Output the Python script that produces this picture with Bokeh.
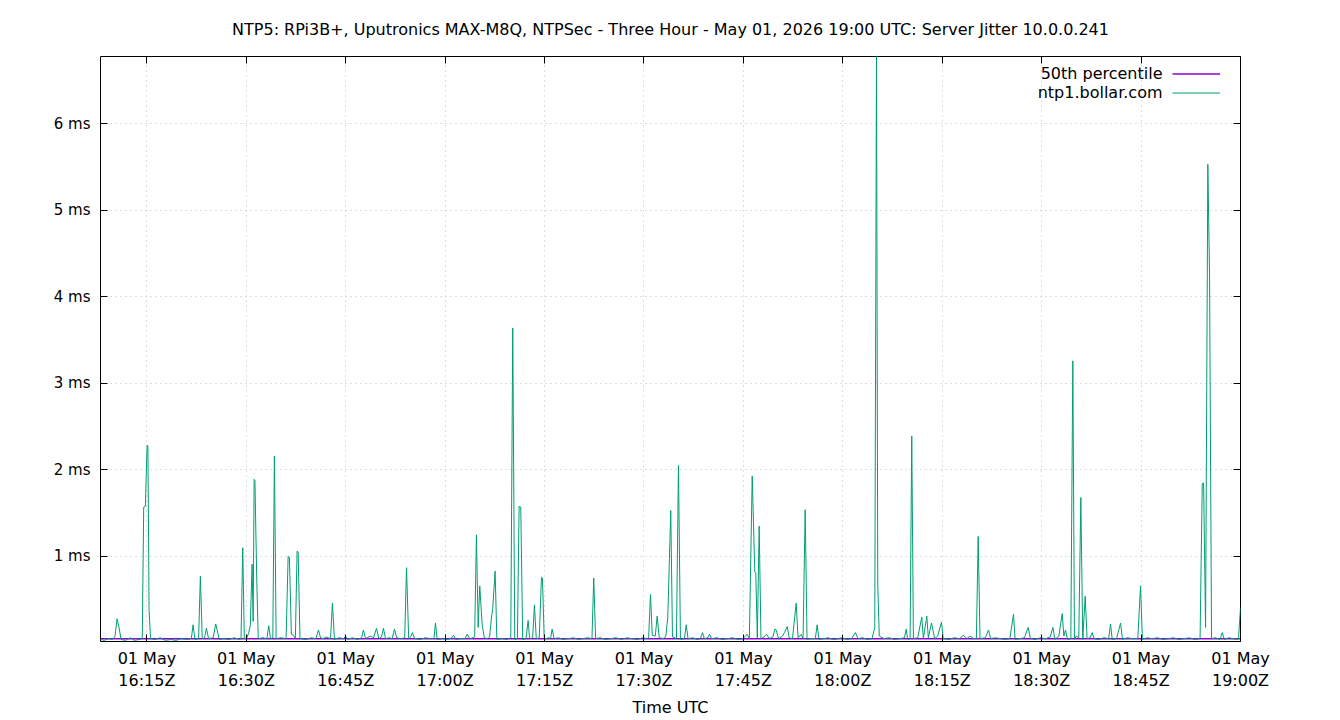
from bokeh.plotting import figure
from bokeh.models import Range1d, FixedTicker, LinearAxis, Legend, LegendItem, Label
from bokeh.embed import file_html
from bokeh.resources import INLINE

FONT = "DejaVu Sans"

title_text = ("NTP5: RPi3B+, Uputronics MAX-M8Q, NTPSec - Three Hour - "
              "May 01, 2026 19:00 UTC: Server Jitter 10.0.0.241")

# minutes after 16:00 UTC, May 01 2026
t_min = [
    8.0, 8.6, 9.2, 9.8, 10.2, 10.5, 10.8, 11.1, 11.8, 12.5,
    13.1, 13.8, 14.3, 14.52, 14.77, 15.03, 15.15, 15.33, 15.55, 16.2,
    17.0, 17.8, 18.6, 19.4, 20.2, 21.0, 21.7, 21.97, 22.25, 22.8,
    23.07, 23.35, 23.7, 23.98, 24.3, 25.0, 25.38, 25.6, 25.9, 26.6,
    27.4, 28.2, 29.0, 29.2, 29.46, 29.7, 30.1, 30.36, 30.6, 30.87,
    31.03, 31.18, 31.3, 31.57, 31.8, 32.5, 33.1, 33.38, 33.65, 34.0,
    34.24, 34.5, 35.2, 36.0, 36.31, 36.5, 36.8, 37.1, 37.4, 37.66,
    37.82, 38.1, 39.0, 39.8, 40.5, 40.88, 41.2, 41.6, 42.0, 42.7,
    42.99, 43.3, 44.0, 44.7, 44.96, 45.3, 46.0, 46.8, 47.4, 47.67,
    48.0, 48.7, 49.2, 49.64, 50.0, 50.4, 50.69, 51.0, 51.6, 52.0,
    52.36, 52.7, 53.3, 53.9, 54.17, 54.5, 54.8, 55.07, 55.4, 56.2,
    57.0, 57.8, 58.3, 58.54, 58.8, 59.6, 60.4, 61.0, 61.26, 61.6,
    62.3, 63.0, 63.32, 63.7, 64.2, 64.45, 64.72, 64.98, 65.22, 65.58,
    65.9, 66.4, 66.7, 67.0, 67.18, 67.54, 67.8, 68.5, 69.3, 69.9,
    70.2, 70.5, 70.9, 71.16, 71.41, 71.7, 72.2, 72.52, 72.75, 73.2,
    73.47, 73.75, 74.2, 74.53, 74.68, 74.95, 75.6, 75.9, 76.14, 76.45,
    77.1, 77.8, 78.6, 79.4, 80.1, 80.8, 81.5, 82.15, 82.42, 82.7,
    83.4, 84.2, 85.0, 85.8, 86.6, 87.4, 88.2, 89.0, 89.8, 90.4,
    90.7, 90.98, 91.25, 91.7, 91.99, 92.3, 93.0, 93.3, 93.59, 94.04,
    94.3, 94.9, 95.2, 95.5, 96.1, 96.37, 96.65, 97.4, 98.0, 98.5,
    98.83, 99.1, 99.6, 99.9, 100.2, 101.0, 101.8, 102.6, 103.4, 104.2,
    104.9, 105.57, 105.9, 106.33, 106.72, 106.87, 107.1, 107.38, 107.65, 108.1,
    108.5, 108.9, 109.45, 109.73, 109.95, 110.3, 110.9, 111.2, 111.61, 111.9,
    112.4, 112.96, 113.25, 113.7, 114.0, 114.32, 114.6, 115.2, 115.85, 116.13,
    116.4, 117.1, 117.8, 118.6, 119.3, 119.95, 120.6, 121.3, 121.91, 122.3,
    123.0, 123.7, 124.4, 124.82, 125.08, 125.27, 125.5, 126.2, 127.0, 127.8,
    128.6, 129.3, 129.56, 129.8, 130.15, 130.4, 130.65, 131.3, 131.91, 132.15,
    132.67, 132.9, 133.38, 133.6, 133.85, 134.3, 134.89, 135.15, 136.0, 136.8,
    137.6, 138.2, 138.7, 139.2, 139.7, 140.15, 140.42, 140.7, 141.5, 141.98,
    142.3, 143.0, 143.8, 144.5, 145.2, 145.75, 146.0, 146.7, 147.4, 147.97,
    148.3, 149.0, 149.8, 150.6, 151.3, 151.69, 152.0, 152.6, 153.1, 153.35,
    153.6, 153.9, 154.4, 154.7, 154.95, 155.2, 155.6, 155.91, 156.2, 156.57,
    156.85, 157.3, 157.63, 157.9, 158.6, 159.4, 160.1, 160.39, 160.65, 161.3,
    161.9, 162.2, 162.9, 163.7, 164.5, 164.92, 165.2, 165.9, 166.7, 167.5,
    168.3, 169.1, 169.9, 170.7, 171.5, 172.3, 173.1, 173.9, 174.23, 174.43,
    174.73, 175.07, 175.33, 175.63, 176.2, 176.9, 177.25, 177.55, 178.2, 178.9,
    179.5, 179.7, 180.0,
]

# server jitter, ms
jitter_ms = [
    0.04, 0.03, 0.05, 0.04, 0.08, 0.28, 0.18, 0.04, 0.03, 0.06,
    0.03, 0.04, 0.05, 1.57, 1.58, 2.28, 2.28, 0.38, 0.05, 0.04,
    0.06, 0.03, 0.04, 0.03, 0.05, 0.04, 0.05, 0.21, 0.04, 0.05,
    0.77, 0.05, 0.06, 0.17, 0.05, 0.06, 0.22, 0.15, 0.04, 0.05,
    0.04, 0.06, 0.04, 0.05, 1.10, 0.05, 0.06, 0.12, 0.20, 0.91,
    0.25, 1.89, 1.88, 0.75, 0.05, 0.06, 0.05, 0.20, 0.05, 0.06,
    2.16, 0.05, 0.06, 0.05, 1.00, 0.99, 0.10, 0.09, 0.05, 1.06,
    1.05, 0.05, 0.04, 0.06, 0.05, 0.15, 0.06, 0.05, 0.07, 0.05,
    0.46, 0.04, 0.06, 0.05, 0.08, 0.04, 0.06, 0.04, 0.06, 0.15,
    0.05, 0.08, 0.06, 0.17, 0.05, 0.07, 0.17, 0.05, 0.06, 0.05,
    0.16, 0.06, 0.05, 0.06, 0.87, 0.05, 0.07, 0.12, 0.05, 0.04,
    0.06, 0.05, 0.05, 0.23, 0.04, 0.05, 0.04, 0.06, 0.09, 0.04,
    0.05, 0.05, 0.10, 0.05, 0.06, 0.07, 1.25, 0.18, 0.66, 0.22,
    0.06, 0.05, 0.07, 0.30, 0.40, 0.83, 0.04, 0.05, 0.04, 0.06,
    3.64, 0.04, 0.05, 1.58, 1.57, 0.04, 0.05, 0.26, 0.05, 0.06,
    0.44, 0.05, 0.06, 0.76, 0.75, 0.04, 0.06, 0.05, 0.16, 0.05,
    0.06, 0.04, 0.05, 0.06, 0.04, 0.05, 0.06, 0.05, 0.75, 0.05,
    0.06, 0.04, 0.05, 0.06, 0.04, 0.06, 0.05, 0.04, 0.06, 0.05,
    0.06, 0.56, 0.09, 0.08, 0.31, 0.06, 0.05, 0.08, 0.30, 1.53,
    0.07, 0.05, 2.05, 0.04, 0.05, 0.21, 0.05, 0.06, 0.04, 0.05,
    0.12, 0.05, 0.06, 0.10, 0.05, 0.06, 0.04, 0.05, 0.06, 0.04,
    0.05, 0.10, 0.05, 1.93, 0.82, 0.81, 0.06, 1.35, 0.05, 0.07,
    0.10, 0.05, 0.07, 0.16, 0.15, 0.05, 0.08, 0.12, 0.19, 0.06,
    0.05, 0.46, 0.06, 0.10, 0.05, 1.54, 0.04, 0.05, 0.05, 0.21,
    0.04, 0.05, 0.06, 0.04, 0.05, 0.06, 0.04, 0.05, 0.12, 0.05,
    0.06, 0.04, 0.05, 0.18, 6.78, 0.68, 0.08, 0.05, 0.06, 0.04,
    0.05, 0.06, 0.16, 0.04, 0.05, 2.39, 0.05, 0.06, 0.30, 0.05,
    0.31, 0.06, 0.23, 0.15, 0.05, 0.08, 0.24, 0.05, 0.04, 0.06,
    0.05, 0.09, 0.05, 0.08, 0.05, 0.05, 1.23, 0.05, 0.06, 0.15,
    0.05, 0.06, 0.05, 0.04, 0.05, 0.33, 0.04, 0.05, 0.06, 0.18,
    0.05, 0.04, 0.06, 0.05, 0.07, 0.18, 0.04, 0.08, 0.34, 0.08,
    0.15, 0.04, 0.05, 3.26, 0.04, 0.08, 0.06, 1.68, 0.04, 0.54,
    0.05, 0.06, 0.12, 0.05, 0.04, 0.06, 0.05, 0.22, 0.04, 0.05,
    0.23, 0.04, 0.06, 0.05, 0.05, 0.66, 0.04, 0.06, 0.05, 0.06,
    0.04, 0.05, 0.06, 0.04, 0.05, 0.06, 0.04, 0.05, 1.84, 1.85,
    0.18, 5.53, 4.25, 0.05, 0.06, 0.04, 0.12, 0.04, 0.06, 0.05,
    0.04, 0.05, 0.41,
]
assert len(t_min) == len(jitter_ms)

# 50th percentile of the server jitter, ms
p50_t = [8.0, 180.0]
p50_ms = [0.049, 0.049]

tick_minutes = [15, 30, 45, 60, 75, 90, 105, 120, 135, 150, 165, 180]
tick_labels = ["01 May\n16:15Z", "01 May\n16:30Z", "01 May\n16:45Z",
               "01 May\n17:00Z", "01 May\n17:15Z", "01 May\n17:30Z",
               "01 May\n17:45Z", "01 May\n18:00Z", "01 May\n18:15Z",
               "01 May\n18:30Z", "01 May\n18:45Z", "01 May\n19:00Z"]
y_ticks = [1, 2, 3, 4, 5, 6]
y_tick_labels = ["1 ms", "2 ms", "3 ms", "4 ms", "5 ms", "6 ms"]

PURPLE = "#9400d3"
GREEN = "#009e73"

p = figure(width=1340, height=720, output_backend="svg", toolbar_location=None,
           x_range=Range1d(8.0, 180.0), y_range=Range1d(0.017, 6.776),
           title=title_text,
           min_border_left=100, min_border_right=100,
           min_border_top=56, min_border_bottom=79)
p.title.align = "center"
p.title.text_font = FONT
p.title.text_font_size = "16px"
p.title.text_font_style = "normal"
p.title.text_color = "black"
p.title.standoff = 35

p.background_fill_color = "white"
p.border_fill_color = "white"
p.outline_line_color = "black"
p.outline_line_width = 1
p.outline_line_alpha = 1.0

xt = FixedTicker(ticks=tick_minutes, minor_ticks=[])
yt = FixedTicker(ticks=y_ticks, minor_ticks=[])


def style_axis(ax, size="16px"):
    ax.axis_line_color = None
    ax.major_tick_in = 7
    ax.major_tick_out = 0
    ax.minor_tick_in = 0
    ax.minor_tick_out = 0
    ax.major_tick_line_color = "black"
    ax.major_tick_line_width = 1
    ax.major_label_text_font = FONT
    ax.major_label_text_font_size = size
    ax.major_label_text_color = "black"


xa = p.xaxis[0]
xa.ticker = xt
xa.major_label_overrides = dict(zip(tick_minutes, tick_labels))
style_axis(xa)
xa.major_label_standoff = 7
xa.axis_label = "Time UTC"
xa.axis_label_text_font = FONT
xa.axis_label_text_font_size = "16px"
xa.axis_label_text_font_style = "normal"
xa.axis_label_text_color = "black"
xa.axis_label_standoff = 5

ya = p.yaxis[0]
ya.ticker = yt
ya.major_label_overrides = dict(zip(y_ticks, y_tick_labels))
style_axis(ya, "15px")
ya.major_label_standoff = 10

top_ax = LinearAxis(ticker=xt, major_label_overrides={t: "" for t in tick_minutes})
style_axis(top_ax)
top_ax.major_label_text_font_size = "0px"
top_ax.major_label_standoff = 0
p.add_layout(top_ax, "above")

right_ax = LinearAxis(ticker=yt, major_label_overrides={t: "" for t in y_ticks})
style_axis(right_ax)
right_ax.major_label_text_font_size = "0px"
right_ax.major_label_standoff = 0
p.add_layout(right_ax, "right")

for g, tk in ((p.xgrid[0], xt), (p.ygrid[0], yt)):
    g.ticker = tk
    g.grid_line_color = "#bcbcbc"
    g.grid_line_dash = "1 4"
    g.grid_line_width = 1

r_p50 = p.line(p50_t, p50_ms, line_color=PURPLE, line_width=1.5)
r_srv = p.line(t_min, jitter_ms, line_color=GREEN, line_width=1)

legend = Legend(items=[LegendItem(label="", renderers=[r_p50]),
                       LegendItem(label="", renderers=[r_srv])],
                location=(1072, 539), orientation="vertical",
                glyph_width=48, glyph_height=19, label_width=0, label_height=19,
                label_standoff=0, padding=0, spacing=0, margin=0,
                border_line_color=None, background_fill_alpha=0,
                label_text_font_size="16px")
p.add_layout(legend)

for txt, yy in (("50th percentile", 568), ("ntp1.bollar.com", 549)):
    p.add_layout(Label(x=1062, y=yy, x_units="screen", y_units="screen",
                       text=txt, text_align="right", text_baseline="middle",
                       text_font=FONT, text_font_size="16px", text_color="black"))

open("out.html", "w").write(file_html(p, INLINE))
